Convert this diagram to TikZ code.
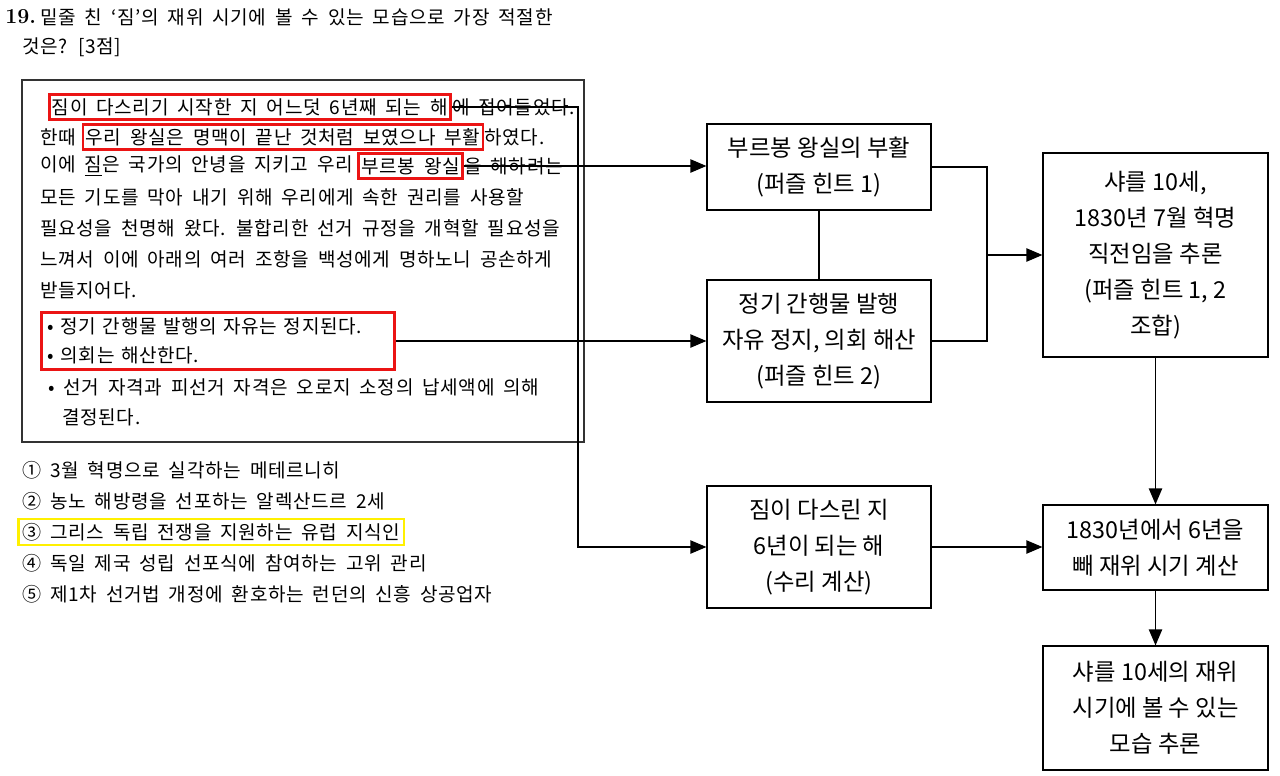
\documentclass[tikz,border=0pt]{standalone}
\usepackage{fontspec}
\newfontfamily\kr[WordSpace=1.8,LetterSpace=3.5]{Noto Sans CJK KR}
\newfontfamily\krb{Noto Sans CJK KR}
\usetikzlibrary{arrows.meta}
\definecolor{redc}{RGB}{235,20,20}
\definecolor{yelc}{RGB}{255,240,0}
\tikzset{
  txt/.style={anchor=west,inner sep=0pt,font=\kr\fontsize{14.3}{16}\selectfont},
  redbox/.style={txt,draw=redc,line width=1.9pt,inner xsep=2pt,inner ysep=3pt},
  flow/.style={draw,line width=0.9pt,align=center,font=\krb\fontsize{17.5}{27}\selectfont,inner sep=2pt},
  arr/.style={line width=0.9pt,-{Triangle[length=12pt,width=10pt]}},
  ln/.style={line width=0.9pt}
}
\begin{document}
\begin{tikzpicture}[x=0.75pt,y=-0.75pt]
\useasboundingbox (0,0) rectangle (1280,775);
% title
\node[anchor=west,inner sep=0pt,font=\bfseries\fontsize{16}{18}\selectfont] (t0) at (5,17) {19.};
\node[txt] (t1) at (40,17) {밑줄 친 ‘짐’의 재위 시기에 볼 수 있는 모습으로 가장 적절한};
\node[txt] (t2) at (22,47) {것은? [3점]};
% passage box
\draw[line width=0.8pt,black!80] (22,80) rectangle (584,442);
% line 1
\node[redbox] (r1) at (48,107) {짐이 다스리기 시작한 지 어느덧 6년째 되는 해};
\node[txt] (l1b) at (r1.east) {에 접어들었다.};
% line 2
\node[txt] (l2a) at (40,137) {한때};
\node[redbox] (r2) at ([xshift=4pt]l2a.east) {우리 왕실은 명맥이 끝난 것처럼 보였으나 부활};
\node[txt] (l2b) at (r2.east) {하였다.};
% line 3
\node[txt] (l3a) at (40,166) {이에 \underline{짐}은 국가의 안녕을 지키고 우리};
\node[redbox] (r3) at ([xshift=3pt]l3a.east) {부르봉 왕실};
\node[txt] (l3b) at (r3.east) {을 해하려는};
\node[txt] (l4) at (40,197) {모든 기도를 막아 내기 위해 우리에게 속한 권리를 사용할};
\node[txt] (l5) at (40,228) {필요성을 천명해 왔다. 불합리한 선거 규정을 개혁할 필요성을};
\node[txt] (l6) at (40,259) {느껴서 이에 아래의 여러 조항을 백성에게 명하노니 공손하게};
\node[txt] (l7) at (40,290) {받들지어다.};
\node[redbox,align=left,font=\kr\fontsize{14.3}{22}\selectfont,text width=255pt,inner xsep=5pt,inner ysep=4pt] (r4) at (40,341) {• 정기 간행물 발행의 자유는 정지된다.\\• 의회는 해산한다.};
\node[txt] (l8) at (48,387) {• 선거 자격과 피선거 자격은 오로지 소정의 납세액에 의해};
\node[txt] (l9) at (62,417) {결정된다.};
% options
\node[txt] (o1) at (22,470) {① 3월 혁명으로 실각하는 메테르니히};
\node[txt] (o2) at (22,501) {② 농노 해방령을 선포하는 알렉산드르 2세};
\node[txt,draw=yelc,line width=1.9pt,inner xsep=3pt,inner ysep=3pt] (o3) at (17,532) {③ 그리스 독립 전쟁을 지원하는 유럽 지식인};
\node[txt] (o4) at (22,563) {④ 독일 제국 성립 선포식에 참여하는 고위 관리};
\node[txt] (o5) at (22,594) {⑤ 제1차 선거법 개정에 환호하는 런던의 신흥 상공업자};
% flow boxes
\node[flow,minimum width=168pt,minimum height=64.5pt] (b1) at (819,167) {부르봉 왕실의 부활\\(퍼즐 힌트 1)};
\node[flow,minimum width=168pt,minimum height=91.5pt] (b2) at (819,341) {정기 간행물 발행\\자유 정지, 의회 해산\\(퍼즐 힌트 2)};
\node[flow,minimum width=168pt,minimum height=91.5pt] (b3) at (819,547) {짐이 다스린 지\\6년이 되는 해\\(수리 계산)};
\node[flow,minimum width=168.75pt,minimum height=153pt] (c1) at (1155.5,255) {샤를 10세,\\1830년 7월 혁명\\직전임을 추론\\(퍼즐 힌트 1, 2\\조합)};
\node[flow,minimum width=168.75pt,minimum height=63.75pt] (c2) at (1155.5,547.5) {1830년에서 6년을\\빼 재위 시기 계산};
\node[flow,minimum width=168.75pt,minimum height=93pt] (c3) at (1155.5,708) {샤를 10세의 재위\\시기에 볼 수 있는\\모습 추론};
\coordinate (k) at (578,0);
\coordinate (j) at (987,0);
% connectors
\draw[arr] (r1.east) -- (r1.east -| k) |- (b3.west);
\draw[arr] (r3.east) -- (r3.east -| b1.west);
\draw[arr] (r4.east) -- (r4.east -| b2.west);
\draw[ln] (b1.south) -- (b2.north);
\draw[ln] (b1.east) -- (b1.east -| j) -- (b2.east -| j) -- (b2.east);
\draw[arr] (j |- c1.west) -- (c1.west);
\draw[arr] (c1.south) -- (c2.north);
\draw[arr] (b3.east) -- (b3.east -| c2.west);
\draw[arr] (c2.south) -- (c3.north);
\end{tikzpicture}
\end{document}
